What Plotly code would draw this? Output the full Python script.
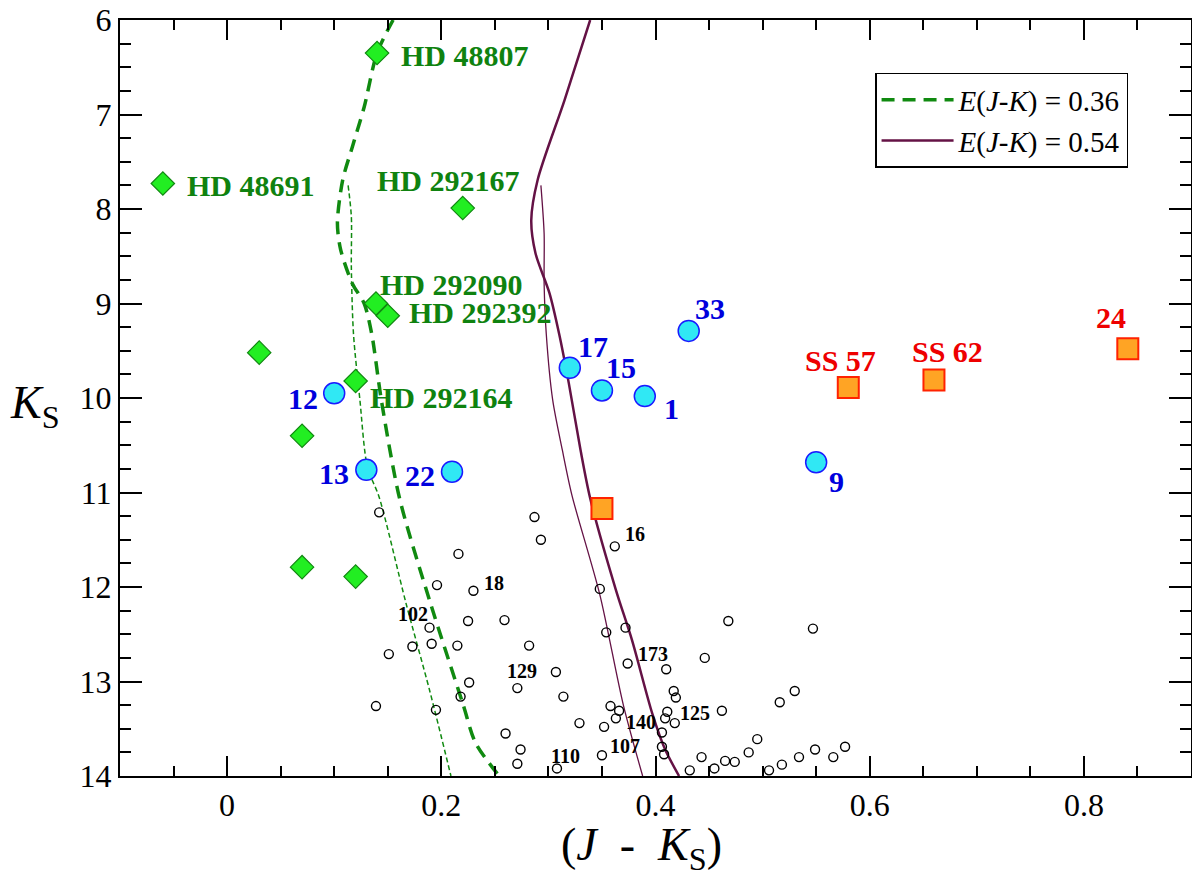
import plotly.graph_objects as go

# isochrones, E(J-K) = 0.36 (green dashed) and 0.54 (purple)
iso36_x = [0.155, 0.140, 0.128, 0.117, 0.108, 0.103, 0.106, 0.117, 0.128, 0.135, 0.144, 0.161, 0.189, 0.220, 0.232, 0.254]
iso36_y = [6.0, 6.35, 6.92, 7.34, 7.69, 8.15, 8.43, 8.79, 9.00, 9.32, 10.02, 11.06, 12.14, 13.23, 13.65, 14.0]
iso36b_x = [0.113, 0.116, 0.116, 0.118, 0.124, 0.131, 0.142, 0.167, 0.189, 0.209]
iso36b_y = [7.75, 8.08, 8.61, 9.32, 10.02, 10.73, 11.05, 12.17, 13.09, 14.0]

iso54_x = [0.339, 0.315, 0.290, 0.284, 0.288, 0.301, 0.310, 0.319, 0.330, 0.339, 0.363, 0.378, 0.397, 0.409, 0.422]
iso54_y = [6.0, 6.85, 7.69, 8.12, 8.47, 8.89, 9.32, 9.84, 10.55, 11.06, 12.03, 12.56, 13.34, 13.72, 14.0]
iso54b_x = [0.293, 0.296, 0.296, 0.298, 0.304, 0.313, 0.322, 0.348, 0.370, 0.388]
iso54b_y = [7.75, 8.26, 8.79, 9.32, 10.02, 10.55, 11.03, 12.08, 13.25, 14.0]

# HD stars (green diamonds)
hd_jk = [0.140, -0.060, 0.220, 0.139, 0.150, 0.030, 0.120, 0.070, 0.070, 0.120]
hd_k = [6.35, 7.73, 7.99, 9.00, 9.13, 9.52, 9.82, 10.40, 11.79, 11.89]
hd_names = ["HD 48807", "HD 48691", "HD 292167", "HD 292090", "HD 292392", "", "HD 292164", "", "", ""]

# numbered stars (cyan circles)
num_jk = [0.100, 0.130, 0.210, 0.320, 0.350, 0.390, 0.431, 0.550]
num_k = [9.95, 10.76, 10.78, 9.68, 9.92, 9.98, 9.29, 10.68]
num_names = ["12", "13", "22", "17", "15", "1", "33", "9"]

# SS stars (orange squares)
ss_jk = [0.580, 0.660, 0.841, 0.350]
ss_k = [9.89, 9.81, 9.48, 11.17]
ss_names = ["SS 57", "SS 62", "24", ""]

# field stars (small open circles)
fld_jk = [0.142, 0.287, 0.293, 0.362, 0.216, 0.196, 0.230, 0.348, 0.225, 0.259,
          0.189, 0.354, 0.372, 0.151, 0.173, 0.191, 0.215, 0.282, 0.374, 0.307,
          0.271, 0.226, 0.218, 0.139, 0.195, 0.314, 0.358, 0.366, 0.363, 0.329,
          0.352, 0.260, 0.274, 0.271, 0.308, 0.350, 0.468, 0.547, 0.446, 0.410,
          0.417, 0.419, 0.530, 0.516, 0.411, 0.409, 0.418, 0.462, 0.406, 0.406,
          0.408, 0.495, 0.487, 0.443, 0.432, 0.455, 0.465, 0.474, 0.506, 0.518,
          0.534, 0.549, 0.566, 0.577]
fld_k = [11.21, 11.26, 11.50, 11.57, 11.65, 11.98, 12.04, 12.02, 12.36, 12.35,
         12.43, 12.48, 12.43, 12.71, 12.63, 12.60, 12.62, 12.62, 12.81, 12.90,
         13.07, 13.01, 13.16, 13.26, 13.30, 13.16, 13.26, 13.31, 13.39, 13.44,
         13.48, 13.55, 13.72, 13.87, 13.92, 13.78, 12.36, 12.44, 12.75, 12.87,
         13.10, 13.17, 13.10, 13.22, 13.32, 13.39, 13.44, 13.31, 13.54, 13.69,
         13.77, 13.61, 13.75, 13.80, 13.94, 13.92, 13.84, 13.85, 13.94, 13.88,
         13.80, 13.72, 13.80, 13.69]
fld_names = ["16", "18", "102", "129", "173", "125", "140", "107", "110"]
fld_label_idx = [3, 6, 10, 20, 18, 44, 28, 35, 34]

SERIF = "Liberation Serif"
GREEN_TXT = "#0f820f"
BLUE_TXT = "#0000dd"
RED_TXT = "#ee0000"
PURPLE = "#641245"

fig = go.Figure()

fig.add_trace(go.Scatter(x=iso36_x, y=iso36_y, mode="lines",
                         line=dict(color="#108a10", width=3.5, dash="13px,8px",
                                   shape="spline", smoothing=0.8),
                         name="<i>E</i>(<i>J</i>-<i>K</i>) = 0.36"))
fig.add_trace(go.Scatter(x=iso36b_x, y=iso36b_y, mode="lines",
                         line=dict(color="#108a10", width=1.5, dash="5px,3px",
                                   shape="spline", smoothing=0.8),
                         showlegend=False))
fig.add_trace(go.Scatter(x=iso54_x, y=iso54_y, mode="lines",
                         line=dict(color=PURPLE, width=2.5, shape="spline", smoothing=0.8),
                         name="<i>E</i>(<i>J</i>-<i>K</i>) = 0.54"))
fig.add_trace(go.Scatter(x=iso54b_x, y=iso54b_y, mode="lines",
                         line=dict(color=PURPLE, width=1.3, shape="spline", smoothing=0.8),
                         showlegend=False))

fig.add_trace(go.Scatter(x=fld_jk, y=fld_k, mode="markers", showlegend=False,
                         marker=dict(symbol="circle-open", size=9, color="black",
                                     line=dict(width=1.4, color="black"))))
fig.add_trace(go.Scatter(x=hd_jk, y=hd_k, mode="markers", showlegend=False,
                         marker=dict(symbol="diamond", size=18, color="#22ee22",
                                     line=dict(width=1.2, color="#118811"))))
fig.add_trace(go.Scatter(x=num_jk, y=num_k, mode="markers", showlegend=False,
                         marker=dict(symbol="circle", size=21, color="#30e8f4",
                                     line=dict(width=1.5, color="#1a1aff"))))
fig.add_trace(go.Scatter(x=ss_jk, y=ss_k, mode="markers", showlegend=False,
                         marker=dict(symbol="square", size=21, color="#ffa424",
                                     line=dict(width=2, color="#ff2200"))))

# label offsets in pixels (anchor, xshift, yshift)
hd_off = [("left", 22, -2), ("left", 22, -2), ("center", -14, 28), ("left", 2, 19),
          ("left", 19, 3), None, ("left", 12, -17), None, None, None]
num_off = [("right", -14, -5), ("right", -15, -4), ("right", -15, -4), ("left", 6, 21),
           ("left", 2, 23), ("left", 17, -12), ("left", 4, 22), ("left", 11, -19)]
ss_off = [("center", -8, 27), ("center", 14, 29), ("center", -17, 31), None]
fld_off = [("left", 8, 12), ("left", 9, 8), ("right", 0, 14), ("center", 5, 17),
           ("left", 8, 10), ("left", 11, -1), ("left", 8, -4), ("left", 6, 9),
           ("center", 9, 12)]


def add_labels(xs, ys, names, offsets, color, size):
    for x, y, t, off in zip(xs, ys, names, offsets):
        if not t or off is None:
            continue
        anchor, dx, dy = off
        fig.add_annotation(x=x, y=y, text="<b>" + t + "</b>", showarrow=False,
                           xanchor=anchor, yanchor="middle", xshift=dx, yshift=dy,
                           font=dict(family=SERIF, size=size, color=color))


add_labels(hd_jk, hd_k, hd_names, hd_off, GREEN_TXT, 30)
add_labels(num_jk, num_k, num_names, num_off, BLUE_TXT, 30)
add_labels(ss_jk, ss_k, ss_names, ss_off, RED_TXT, 30)
add_labels([fld_jk[i] for i in fld_label_idx], [fld_k[i] for i in fld_label_idx],
           fld_names, fld_off, "black", 20)

# axis titles
fig.add_annotation(x=0.487, y=-0.095, xref="paper", yref="paper", showarrow=False,
                   text="(<i>J</i>&nbsp;&nbsp;-&nbsp;&nbsp;<i>K</i><sub>S</sub>)",
                   yanchor="middle",
                   font=dict(family=SERIF, size=46, color="black"))
fig.add_annotation(x=-0.079, y=0.49, xref="paper", yref="paper", showarrow=False,
                   text="<i>K</i><sub>S</sub>", xanchor="center", yanchor="middle",
                   font=dict(family=SERIF, size=46, color="black"))

axis_common = dict(showline=True, linecolor="black", linewidth=2, mirror="ticks",
                   ticks="inside", tickcolor="black", tickwidth=1.6, showgrid=False,
                   zeroline=False, ticklabeloverflow="allow", automargin=False,
                   tickfont=dict(family=SERIF, size=32, color="black"))

fig.update_xaxes(range=[-0.1, 0.9], dtick=0.2, tick0=0, ticklen=20,
                 minor=dict(dtick=0.05, ticklen=10, ticks="inside", tickcolor="black",
                            tickwidth=1.6, showgrid=False),
                 **axis_common)
fig.update_yaxes(range=[14, 6], dtick=1, tick0=6, ticklen=22,
                 minor=dict(dtick=0.25, ticklen=11, ticks="inside", tickcolor="black",
                            tickwidth=1.6, showgrid=False),
                 **axis_common)

# the page body adds 8px around the figure, so the figure is 16px smaller than the window
fig.update_layout(
    width=1184, height=864,
    margin=dict(l=112, r=1, t=12, b=96, autoexpand=False),
    plot_bgcolor="white", paper_bgcolor="white",
    legend=dict(x=0.705, y=0.93, xanchor="left", yanchor="top",
                bordercolor="black", borderwidth=1.5, bgcolor="white",
                font=dict(family=SERIF, size=29, color="black"),
                itemwidth=72, tracegroupgap=0),
)

fig.write_html("out.html")
